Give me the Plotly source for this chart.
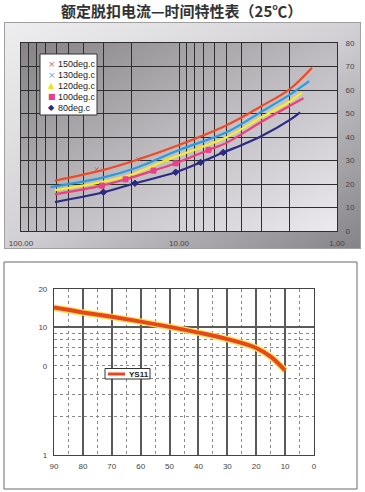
import base64
import numpy as np
import plotly.graph_objects as go

W, H = 365, 492

# ---------------- data ----------------
title_text = "额定脱扣电流—时间特性表（25℃）"

series_names = ["150deg.c", "130deg.c", "120deg.c", "100deg.c", "80deg.c"]

c150_x = [61, 30, 19, 10, 5, 3, 2, 1.44]
c150_y = [21.4, 26.0, 30.0, 36.6, 45.0, 53.2, 60.3, 69.5]
c130_x = [65, 30, 19, 10, 5, 3, 2, 1.5]
c130_y = [18.7, 22.8, 26.7, 34.5, 42.0, 50.8, 57.9, 63.8]
c120_x = [61, 30, 19, 12, 7.5, 5, 3, 2, 1.67]
c120_y = [17.4, 21.0, 24.5, 30.2, 35.2, 39.9, 48.4, 55.0, 58.9]
c100_x = [61, 30.8, 21.8, 14.5, 10.5, 6.5, 5, 3, 2, 1.63]
c100_y = [15.6, 19.3, 22.0, 25.7, 28.8, 34.5, 37.5, 46.5, 53.2, 56.5]
c80_x = [61, 30.1, 19, 10.5, 7.3, 5.25, 4, 3, 2, 1.71]
c80_y = [12.3, 16.5, 20.3, 25.0, 29.2, 33.4, 36.6, 40.4, 47.2, 50.5]

m150_x = [33.2, 18.1]
m150_y = [26.3, 30.6]
m120_x = [12, 7.5]
m120_y = [30.2, 35.2]
m100_x = [30.8, 21.8, 14.5, 10.5, 6.5]
m100_y = [19.3, 22.0, 25.7, 28.8, 34.5]
m80_x = [30.1, 19, 10.5, 7.3, 5.25]
m80_y = [16.5, 20.3, 25.0, 29.2, 33.4]

top_x_gridvals = [1, 2, 3, 4, 5, 6, 7, 8, 9, 10, 20, 30, 40, 50, 60, 70, 80, 90, 100]
top_x_labels = {1: "1.00", 10: "10.00", 100: "100.00"}
top_y_ticks = [0, 10, 20, 30, 40, 50, 60, 70, 80]

ys11_name = "YS11"
ys11_x = [90, 80, 70, 60, 50, 40, 30, 20, 15, 10]
ys11_y = [14.3, 13.1, 12.1, 11.1, 10.1, 9.1, 8.1, 6.9, 5.9, 4.6]

bot_x_ticks = [0, 10, 20, 30, 40, 50, 60, 70, 80, 90]
bot_x_minor = [5, 15, 25, 35, 45, 55, 65, 75, 85]
bot_y_ticks = [1, 5, 10, 20]
bot_y_labels = ["1", "0", "10", "20"]
bot_y_minor = [2, 3, 4, 5, 6, 7, 8, 9]

# ---------------- helpers ----------------
def px(x):
    return x / W

def py(y):
    return 1 - y / H

colors = ["#f04a25", "#2d9ae0", "#f6ee2c", "#ec3f7c", "#2c2a86"]

fig = go.Figure()

curves = [(c150_x, c150_y), (c130_x, c130_y), (c120_x, c120_y), (c100_x, c100_y), (c80_x, c80_y)]
for (cx, cy), col, nm in zip(curves, colors, series_names):
    fig.add_trace(go.Scatter(x=cx, y=cy, mode="lines", name=nm,
                             line=dict(color=col, width=2.2, shape="spline", smoothing=1.0),
                             xaxis="x", yaxis="y", showlegend=False, hoverinfo="skip"))

marker_sets = [
    (m150_x, m150_y, "x-thin", "#d85a4a", 4),
    (m120_x, m120_y, "triangle-up", "#f0e020", 5),
    (m100_x, m100_y, "square", "#e8408a", 5),
    (m80_x, m80_y, "diamond", "#2a2a80", 5),
]
for mx, my, sym, col, sz in marker_sets:
    fig.add_trace(go.Scatter(x=mx, y=my, mode="markers",
                             marker=dict(symbol=sym, color=col, size=sz,
                                         line=dict(color=col, width=1)),
                             xaxis="x", yaxis="y", showlegend=False, hoverinfo="skip"))

# bottom curve: glow + core
fig.add_trace(go.Scatter(x=ys11_x, y=ys11_y, mode="lines",
                         line=dict(color="#f8e050", width=6.5, shape="spline"),
                         xaxis="x2", yaxis="y2", showlegend=False, hoverinfo="skip"))
fig.add_trace(go.Scatter(x=ys11_x, y=ys11_y, mode="lines", name=ys11_name,
                         line=dict(color="#e8461c", width=4, shape="spline"),
                         xaxis="x2", yaxis="y2", showlegend=False, hoverinfo="skip"))

# ---------------- background gradient for the top panel ----------------
svg = (
    "<svg xmlns='http://www.w3.org/2000/svg' width='357' height='227' viewBox='0 0 357 227' "
    "preserveAspectRatio='none'>"
    "<defs>"
    "<linearGradient id='a' x1='0' y1='0' x2='1' y2='1'>"
    "<stop offset='0' stop-color='#eeeef0'/><stop offset='0.5' stop-color='#d2d0d4'/>"
    "<stop offset='1' stop-color='#858288'/></linearGradient>"
    "<linearGradient id='b' x1='0' y1='0' x2='1' y2='1'>"
    "<stop offset='0' stop-color='#868286'/><stop offset='0.5' stop-color='#bdbbbf'/>"
    "<stop offset='1' stop-color='#eceaee'/></linearGradient>"
    "</defs>"
    "<rect x='0.5' y='0.5' width='356' height='226' fill='url(#a)' stroke='#a0a0a0'/>"
    "<rect x='17' y='21' width='316' height='188' fill='url(#b)'/>"
    "</svg>"
)
src = "data:image/svg+xml;base64," + base64.b64encode(svg.encode()).decode()

fig.add_layout_image(dict(source=src, xref="paper", yref="paper",
                          x=px(4), y=py(22), sizex=px(357), sizey=227 / H,
                          xanchor="left", yanchor="top", sizing="stretch", layer="below"))

# ---------------- shapes & annotations ----------------
shapes = []
annotations = []

# title
annotations.append(dict(text="<b>" + title_text + "</b>", x=px(181), y=py(11),
                        xref="paper", yref="paper", showarrow=False,
                        xanchor="center", yanchor="middle",
                        font=dict(family="Noto Sans CJK SC", size=15, color="#333333")))

# top legend box
shapes.append(dict(type="rect", xref="paper", yref="paper",
                   x0=px(40), x1=px(97), y0=py(54), y1=py(115),
                   fillcolor="white", line=dict(color="#333333", width=1), layer="above"))
leg_syms = ["×", "×", "▲", "■", "◆"]
leg_cols = ["#d86a5a", "#5aa8e0", "#f0e020", "#e8408a", "#2a2a80"]
leg_sizes = [9, 9, 8, 8, 8]
leg_y = [64.3, 75, 85.7, 96.7, 108]
for s, c, fs, nm, yy in zip(leg_syms, leg_cols, leg_sizes, series_names, leg_y):
    annotations.append(dict(text=s, x=px(51.5), y=py(yy), xref="paper", yref="paper",
                            showarrow=False, xanchor="center", yanchor="middle",
                            font=dict(family="DejaVu Sans", size=fs, color=c)))
    annotations.append(dict(text=nm, x=px(56), y=py(yy), xref="paper", yref="paper",
                            showarrow=False, xanchor="left", yanchor="middle",
                            font=dict(family="Liberation Sans", size=9, color="#222222")))

# bottom panel outer box
shapes.append(dict(type="rect", xref="paper", yref="paper",
                   x0=px(4), x1=px(357), y0=py(262), y1=py(489),
                   fillcolor="rgba(0,0,0,0)", line=dict(color="#6a6a6a", width=1), layer="below"))

# bottom legend
shapes.append(dict(type="rect", xref="paper", yref="paper",
                   x0=px(105), x1=px(150), y0=py(368.5), y1=py(379),
                   fillcolor="white", line=dict(color="#333333", width=1), layer="above"))
shapes.append(dict(type="line", xref="paper", yref="paper",
                   x0=px(108), x1=px(125), y0=py(374), y1=py(374),
                   line=dict(color="#e8461c", width=3), layer="above"))
annotations.append(dict(text="<b>" + ys11_name + "</b>", x=px(127), y=py(374), xref="paper", yref="paper",
                        showarrow=False, xanchor="left", yanchor="middle",
                        font=dict(family="Liberation Sans", size=8, color="#222222")))

tickfont = dict(family="Liberation Sans", size=8, color="#444444")

fig.update_layout(
    width=W, height=H,
    margin=dict(l=0, r=0, t=0, b=0, autoexpand=False),
    paper_bgcolor="white",
    plot_bgcolor="rgba(0,0,0,0)",
    showlegend=False,
    shapes=shapes,
    annotations=annotations,
    xaxis=dict(domain=[px(21), px(337)], anchor="y", type="log", range=[2, 0],
               tickvals=top_x_gridvals,
               ticktext=[top_x_labels.get(v, "") for v in top_x_gridvals],
               showgrid=True, gridcolor="#2e2e2e", gridwidth=1,
               showline=True, mirror=True, linecolor="#2e2e2e", linewidth=1,
               ticks="", zeroline=False, tickfont=tickfont, ticklabelstandoff=4,
               automargin=False, fixedrange=True),
    yaxis=dict(domain=[py(231), py(43)], anchor="x", range=[0, 80], side="right",
               tickvals=top_y_ticks, showgrid=True, gridcolor="#2e2e2e", gridwidth=1,
               showline=True, mirror=True, linecolor="#2e2e2e", linewidth=1,
               ticks="", zeroline=False, tickfont=tickfont, ticklabelstandoff=6,
               automargin=False, fixedrange=True),
    xaxis2=dict(domain=[px(54), px(314)], anchor="y2", range=[90, 0],
                tickvals=bot_x_ticks, showgrid=True, gridcolor="#5a5a5a", gridwidth=1.5,
                minor=dict(tickvals=bot_x_minor, showgrid=True, griddash="dot",
                           gridcolor="#8a8a8a", gridwidth=1, ticks=""),
                showline=True, mirror=True, linecolor="#444444", linewidth=1.2,
                ticks="", zeroline=False, tickfont=tickfont, ticklabelstandoff=3,
                automargin=False, fixedrange=True),
    yaxis2=dict(domain=[py(455), py(289)], anchor="x2", type="log", range=[0, np.log10(20)],
                tickvals=bot_y_ticks, ticktext=bot_y_labels, showgrid=False,
                minor=dict(tickvals=bot_y_minor, showgrid=True, griddash="dot",
                           gridcolor="#8a8a8a", gridwidth=1, ticks=""),
                showline=True, mirror=True, linecolor="#444444", linewidth=1.2,
                ticks="", zeroline=False, tickfont=tickfont, ticklabelstandoff=4,
                automargin=False, fixedrange=True),
    yaxis3=dict(overlaying="y2", anchor="x2", type="log", range=[0, np.log10(20)],
                tickvals=[10], showticklabels=False, showgrid=True,
                gridcolor="#5a5a5a", gridwidth=1.5, showline=False, ticks="",
                zeroline=False, automargin=False, fixedrange=True),
)

# invisible helper trace so that the overlay axis (solid line at 10) is drawn
fig.add_trace(go.Scatter(x=[50], y=[10], mode="markers", marker=dict(opacity=0),
                         xaxis="x2", yaxis="y3", showlegend=False, hoverinfo="skip"))

fig.write_html("out.html", config=dict(displayModeBar=False),
               post_script="document.body.style.margin='0';document.body.style.padding='0';"
                           "document.documentElement.style.margin='0';")
